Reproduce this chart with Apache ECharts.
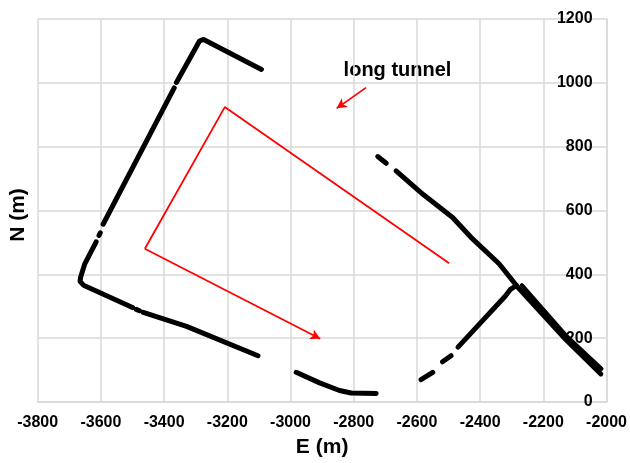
<!DOCTYPE html>
<html>
<head>
<meta charset="utf-8">
<script src="https://cdn.jsdelivr.net/npm/echarts@6/dist/echarts.min.js"></script>
<style>html,body{margin:0;padding:0;background:#fff}#c{width:630px;height:463px}</style>
</head>
<body>
<div id="c"></div>
<script>
// Tick ranges
const xTicks = {min: -3800, max: -2000, interval: 200};
const yTicks = {min: 0, max: 1200, interval: 200};

// Black tunnel traces (E, N)
const tunnelA1 = [[-3092,1042],[-3275,1136],[-3288,1131],[-3361,1001]];
const tunnelA2 = [[-3368,984],[-3593,557]];
const tunnelA3 = [[-3602,530],[-3606,522]];
const tunnelA4 = [[-3615,502],[-3651,433],[-3664,392],[-3666,378],[-3655,366],[-3500,296]];
const tunnelA5 = [[-3488,290],[-3478,286]];
const tunnelA6 = [[-3466,281],[-3329,237],[-3103,145]];
const tunnelB  = [[-2982,93],[-2908,60],[-2845,36],[-2808,28],[-2729,27]];
const tunnelC1 = [[-2724,769],[-2697,748]];
const tunnelC2 = [[-2666,724],[-2580,650],[-2487,578],[-2429,516],[-2340,433],[-2282,361],[-2129,196],[-2018,88]];
const tunnelC3 = [[-2268,366],[-2125,205],[-2016,104]];
const tunnelD1 = [[-2285,365],[-2305,352],[-2320,332],[-2470,172]];
const tunnelD2 = [[-2492,145],[-2519,126]];
const tunnelD3 = [[-2550,93],[-2587,70]];

// Red path (long tunnel) and arrows
const redPath  = [[-2498,435],[-3208,924],[-3461,480]];
const redArrow = [[-3461,480],[-2906,198]];
const pointer  = [[-2761,985],[-2854,920]];

const labelText = 'long tunnel';
const xName = 'E (m)';
const yName = 'N (m)';

const FONT = '"Liberation Sans", Arial, sans-serif';
const chart = echarts.init(document.getElementById('c'));

const blackSegs = [tunnelA1,tunnelA2,tunnelA3,tunnelA4,tunnelA5,tunnelA6,tunnelB,tunnelC1,tunnelC2,tunnelC3,tunnelD1,tunnelD2,tunnelD3];
const series = blackSegs.map((d, i) => ({
  type: 'line', data: d, showSymbol: false, symbol: 'none', animation: false, silent: true,
  lineStyle: {color: '#000', width: i === 9 ? 4 : 5, cap: 'round', join: 'round'}
}));
series.push({
  type: 'line', data: redPath, symbol: 'none', animation: false, silent: true,
  lineStyle: {color: '#ff0000', width: 1.8},
  markLine: {
    silent: true, animation: false, symbol: ['none','arrow'], symbolSize: [8, 10],
    label: {show: false},
    lineStyle: {color: '#ff0000', width: 1.8, type: 'solid'},
    data: [
      [{coord: redArrow[0]}, {coord: redArrow[1]}],
      [{coord: pointer[0]}, {coord: pointer[1]}]
    ]
  }
});

const plain = v => String(v);

chart.setOption({
  animation: false,
  grid: {left: 37.7, right: 22.5, top: 19, bottom: 56.3, containLabel: false},
  xAxis: {
    type: 'value', min: xTicks.min, max: xTicks.max, interval: xTicks.interval,
    name: xName, nameLocation: 'middle', nameGap: 35,
    nameTextStyle: {fontFamily: FONT, fontWeight: 'bold', fontSize: 21, color: '#000'},
    axisLine: {show: true, onZero: false, lineStyle: {color: '#d9d9d9', width: 1.5}},
    axisTick: {show: false},
    axisLabel: {formatter: plain, fontFamily: FONT, fontWeight: 'bold', fontSize: 16, color: '#000', margin: 13, showMinLabel: true, showMaxLabel: true},
    splitLine: {show: true, lineStyle: {color: '#d9d9d9', width: 1.5}}
  },
  yAxis: {
    type: 'value', position: 'right', min: yTicks.min, max: yTicks.max, interval: yTicks.interval,
    axisLine: {show: true, onZero: false, lineStyle: {color: '#d9d9d9', width: 1.5}},
    axisTick: {show: false},
    axisLabel: {formatter: plain, inside: true, fontFamily: FONT, fontWeight: 'bold', fontSize: 16, color: '#000', margin: 14, showMinLabel: true, showMaxLabel: true},
    splitLine: {show: true, lineStyle: {color: '#d9d9d9', width: 1.5}}
  },
  graphic: [
    {type: 'text', x: 18.5, y: 215, rotation: Math.PI/2, style: {text: yName, font: 'bold 21px ' + FONT, fill: '#000', textAlign: 'center', textVerticalAlign: 'middle'}},
    {type: 'text', x: 397.5, y: 70, style: {text: labelText, font: 'bold 20px ' + FONT, fill: '#000', textAlign: 'center', textVerticalAlign: 'middle'}}
  ],
  series: series
});
</script>
</body>
</html>
